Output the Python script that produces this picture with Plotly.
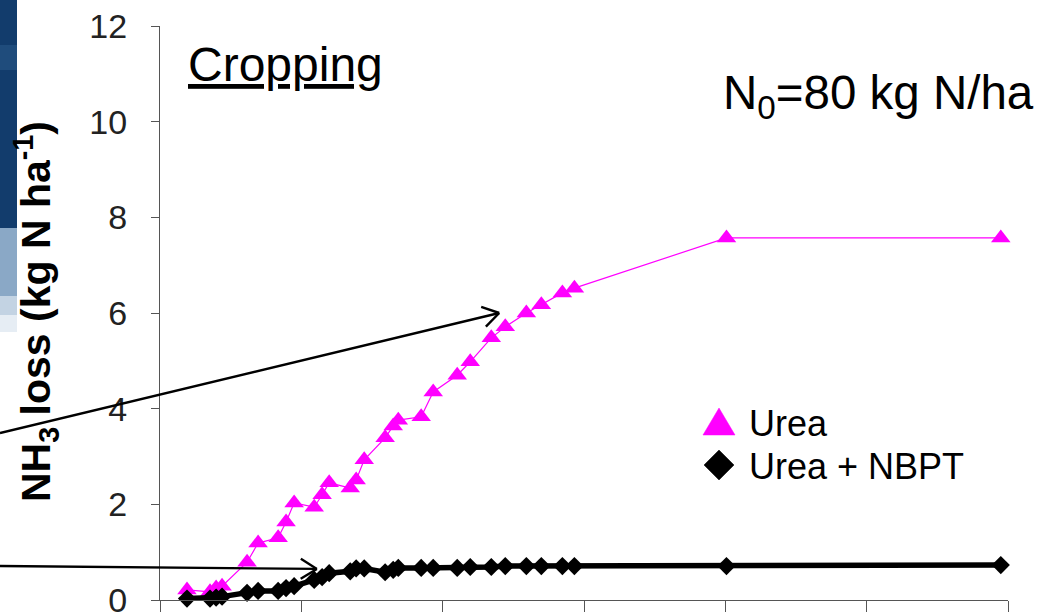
import math
import plotly.graph_objects as go

# ---- data ----
days = [1.91, 3.54, 3.97, 4.39, 6.16, 6.94, 8.36, 8.92, 9.49, 10.91, 11.47, 11.97,
        13.46, 13.88, 14.45, 15.93, 16.50, 16.86, 18.48, 19.33, 21.03, 21.95, 23.44,
        24.43, 25.92, 26.98, 28.47, 29.32, 40.08, 59.49]
urea = [0.21, 0.17, 0.25, 0.29, 0.79, 1.19, 1.30, 1.63, 2.03, 1.94, 2.20, 2.45,
        2.34, 2.51, 2.93, 3.39, 3.64, 3.76, 3.83, 4.35, 4.70, 4.98, 5.48,
        5.71, 6.00, 6.17, 6.42, 6.52, 7.57, 7.57]
urea_nbpt = [0.03, 0.03, 0.05, 0.07, 0.15, 0.19, 0.19, 0.25, 0.29, 0.42, 0.48, 0.56,
             0.60, 0.66, 0.66, 0.58, 0.63, 0.67, 0.67, 0.67, 0.67, 0.69, 0.69,
             0.71, 0.71, 0.71, 0.71, 0.71, 0.71, 0.73]
series_names = ["Urea", "Urea + NBPT"]
y_ticks = [0, 2, 4, 6, 8, 10, 12]
x_ticks = [0, 10, 20, 30, 40, 50, 60]
# arrow heads in data coordinates
arrow_heads = [(24.0, 6.0), (11.1, 0.65)]

W, H = 1044, 616
L, R, T, B = 160, 36, 26, 16
PW, PH = W - L - R, H - T - B
X_RANGE = [0, 60]
Y_RANGE = [0, 12]


def px(xp):
    return (xp - L) / PW


def py(yp):
    return (H - B - yp) / PH


def data_to_pix(x, y):
    return (L + (x - X_RANGE[0]) / (X_RANGE[1] - X_RANGE[0]) * PW,
            H - B - (y - Y_RANGE[0]) / (Y_RANGE[1] - Y_RANGE[0]) * PH)


FONT = "Liberation Sans, Arial, sans-serif"
MAG = "#FF00FF"

fig = go.Figure()
fig.add_trace(go.Scatter(
    x=days, y=urea, mode="lines+markers", name=series_names[0],
    line=dict(color=MAG, width=1.2),
    marker=dict(symbol="triangle-up", size=17, color=MAG),
    cliponaxis=False, showlegend=False))
fig.add_trace(go.Scatter(
    x=days, y=urea_nbpt, mode="lines+markers", name=series_names[1],
    line=dict(color="black", width=5.5),
    marker=dict(symbol="diamond", size=14, color="black"),
    cliponaxis=False, showlegend=False))

shapes = []


# slide background fragment on the left edge
def strip(y0, y1, color):
    shapes.append(dict(type="rect", xref="paper", yref="paper", x0=px(0), x1=px(17),
                       y0=py(y1), y1=py(y0), fillcolor=color, line_width=0, layer="above"))


strip(0, 228, "#123c6c")
strip(45, 70, "#1f4c7c")
strip(228, 296, "#8aa8c6")
strip(296, 315, "#c3d3e3")
strip(315, 332, "#e6edf4")

# arrows from the left edge pointing at the two curves
arrow_tails_pix = [(0, 433), (0, 566)]
for (dx, dy), (tx, ty) in zip(arrow_heads, arrow_tails_pix):
    hx, hy = data_to_pix(dx, dy)
    shapes.append(dict(type="line", xref="paper", yref="paper",
                       x0=px(tx), y0=py(ty), x1=px(hx), y1=py(hy),
                       line=dict(color="black", width=2.4), layer="above"))
    ang = math.atan2(hy - ty, hx - tx)
    for s in (1, -1):
        a = ang + math.pi - s * math.radians(32)
        ex, ey = hx + 19 * math.cos(a), hy + 19 * math.sin(a)
        shapes.append(dict(type="line", xref="paper", yref="paper",
                           x0=px(hx), y0=py(hy), x1=px(ex), y1=py(ey),
                           line=dict(color="black", width=2.4), layer="above"))


# legend symbols drawn as paths
def path(points):
    return "M " + " L ".join(f"{px(a):.5f},{py(b):.5f}" for a, b in points) + " Z"


cx, ty_, dy_ = 719, 422, 465
shapes.append(dict(type="path", xref="paper", yref="paper",
                   path=path([(cx - 16, ty_ + 13), (cx + 16, ty_ + 13), (cx, ty_ - 14)]),
                   fillcolor=MAG, line=dict(color=MAG, width=0.5)))
shapes.append(dict(type="path", xref="paper", yref="paper",
                   path=path([(cx - 15, dy_), (cx, dy_ - 15), (cx + 15, dy_), (cx, dy_ + 15)]),
                   fillcolor="black", line=dict(color="black", width=0.5)))

annotations = []
# y-axis title
annotations.append(dict(x=px(36), y=py(312), xref="paper", yref="paper",
                        text="<b>NH<sub>3</sub> loss (kg N ha<sup>-1</sup>)</b>",
                        textangle=-90, showarrow=False, xanchor="center", yanchor="middle",
                        font=dict(family=FONT, size=41, color="black")))
# panel label
annotations.append(dict(x=px(186), y=py(64), xref="paper", yref="paper",
                        text="<u>Cropping</u>", showarrow=False, xanchor="left",
                        yanchor="middle", font=dict(family=FONT, size=48, color="black")))
annotations.append(dict(x=px(721), y=py(96), xref="paper", yref="paper",
                        text="N<sub>0</sub>=80 kg N/ha", showarrow=False, xanchor="left",
                        yanchor="middle", font=dict(family=FONT, size=47.5, color="black")))
# legend texts
annotations.append(dict(x=px(747), y=py(423), xref="paper", yref="paper", text=series_names[0],
                        showarrow=False, xanchor="left", yanchor="middle",
                        font=dict(family=FONT, size=36, color="black")))
annotations.append(dict(x=px(747), y=py(466), xref="paper", yref="paper", text=series_names[1],
                        showarrow=False, xanchor="left", yanchor="middle",
                        font=dict(family=FONT, size=36, color="black")))

fig.update_layout(
    width=W, height=H,
    margin=dict(l=L, r=R, t=T, b=B, autoexpand=False),
    paper_bgcolor="white", plot_bgcolor="white",
    showlegend=False,
    shapes=shapes, annotations=annotations,
    xaxis=dict(range=X_RANGE, tickvals=x_ticks, showticklabels=False,
               ticks="outside", ticklen=11, tickcolor="#555", tickwidth=1.3,
               showline=True, linecolor="#555", linewidth=1.3,
               showgrid=False, zeroline=False, fixedrange=True),
    yaxis=dict(range=Y_RANGE, tickvals=y_ticks, ticks="outside", ticklen=8,
               tickcolor="#555", tickwidth=1.3, showline=True, linecolor="#555",
               linewidth=1.3, showgrid=False, zeroline=False,
               tickfont=dict(family=FONT, size=34, color="#222"),
               ticklabelstandoff=17, ticklabeloverflow="allow", fixedrange=True),
)

fig.write_html("out.html", config={"displayModeBar": False},
               post_script="document.body.style.margin='0';document.body.style.padding='0';")
